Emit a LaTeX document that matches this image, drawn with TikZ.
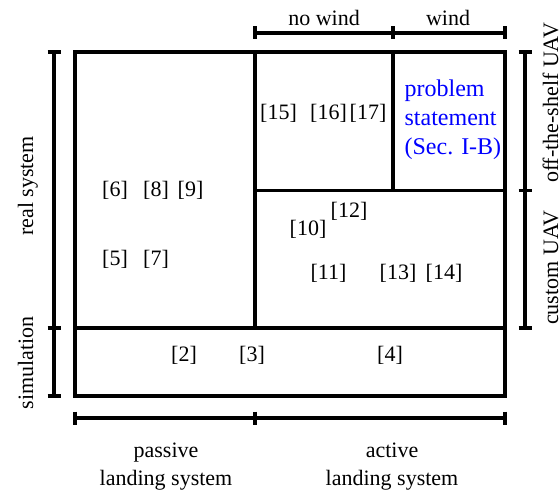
\documentclass[tikz,border=0pt]{standalone}
\usepackage{fontspec}
\setmainfont{Liberation Serif}
\definecolor{refblue}{RGB}{0,0,255}
\begin{document}
\begin{tikzpicture}[x=0.5pt,y=-0.5pt,line width=1.6pt,
  lbl/.style={font=\fontsize{11}{14}\selectfont,inner sep=0pt},
  cite/.style={lbl},
  note/.style={font=\fontsize{12}{14.5}\selectfont,text=refblue,align=left,inner sep=0pt,anchor=north west},
  vlbl/.style={lbl,rotate=90,anchor=base}]
\useasboundingbox (0,0) rectangle (560,491);
% main grid
\coordinate (TL) at (75,52);
\coordinate (BR) at (505,396);
\draw (TL) rectangle (BR);
\coordinate (v1t) at (255,52);  \coordinate (v1b) at (255,328);
\coordinate (h1l) at (75,328);  \coordinate (h1r) at (505,328);
\coordinate (h2l) at (255,190.5); \coordinate (h2r) at (505,190.5);
\coordinate (v2t) at (393,52);  \coordinate (v2b) at (393,190.5);
\draw (v1t) -- (v1b);
\draw (h1l) -- (h1r);
\draw (h2l) -- (h2r);
\draw (v2t) -- (v2b);
% top bracket
\coordinate (ta) at (255,33); \coordinate (tb) at (393,33); \coordinate (tc) at (505,33);
\draw (ta) -- (tc);
\foreach \p in {ta,tb,tc} \draw ([yshift=6.5*0.5pt]\p) -- ([yshift=-6.5*0.5pt]\p);
% left bracket
\coordinate (la) at (54,52); \coordinate (lb) at (54,328); \coordinate (lc) at (54,396);
\draw (la) -- (lc);
\foreach \p in {la,lb,lc} \draw ([xshift=-6.5*0.5pt]\p) -- ([xshift=6.5*0.5pt]\p);
% right bracket
\coordinate (ra) at (525,52); \coordinate (rb) at (525,190.5); \coordinate (rc) at (525,328);
\draw (ra) -- (rc);
\foreach \p in {ra,rb,rc} \draw ([xshift=-6.5*0.5pt]\p) -- ([xshift=6.5*0.5pt]\p);
% bottom bracket
\coordinate (ba) at (75,418); \coordinate (bb) at (255,418); \coordinate (bc) at (505,418);
\draw (ba) -- (bc);
\foreach \p in {ba,bb,bc} \draw ([yshift=6.5*0.5pt]\p) -- ([yshift=-6.5*0.5pt]\p);
% bracket labels
\node[lbl,anchor=base] (nowind) at (324,26) {no wind};
\node[lbl,anchor=base] (wind) at (448,26) {wind};
\node[lbl,anchor=base] (passive) at (166,457) {passive};
\node[lbl,anchor=base] (passive2) at (166,485) {landing system};
\node[lbl,anchor=base] (active) at (392,457) {active};
\node[lbl,anchor=base] (active2) at (392,485) {landing system};
\node[vlbl] (real) at (33,186) {real system};
\node[vlbl] (sim) at (33,363) {simulation};
\node[vlbl] (ots) at (558,103) {off-the-shelf UAV};
\node[vlbl] (cust) at (558,268) {custom UAV};
% citations
\node[cite] (c6) at (115,190) {[6]};
\node[cite] (c8) at (156,190) {[8]};
\node[cite] (c9) at (190.5,190) {[9]};
\node[cite] (c5) at (115,259) {[5]};
\node[cite] (c7) at (156,259) {[7]};
\node[cite] (c15) at (278.5,113) {[15]};
\node[cite] (c16) at (328.5,113) {[16]};
\node[cite] (c17) at (368,113) {[17]};
\node[cite] (c10) at (308,229) {[10]};
\node[cite] (c12) at (349,211) {[12]};
\node[cite] (c11) at (328.5,273) {[11]};
\node[cite] (c13) at (398,273) {[13]};
\node[cite] (c14) at (444,273) {[14]};
\node[cite] (c2) at (184,355) {[2]};
\node[cite] (c3) at (252,355) {[3]};
\node[cite] (c4) at (390,355) {[4]};
% problem statement
\node[note] (ps) at (403,78) {problem\\statement\\(Sec. I-B)};
\end{tikzpicture}
\end{document}
